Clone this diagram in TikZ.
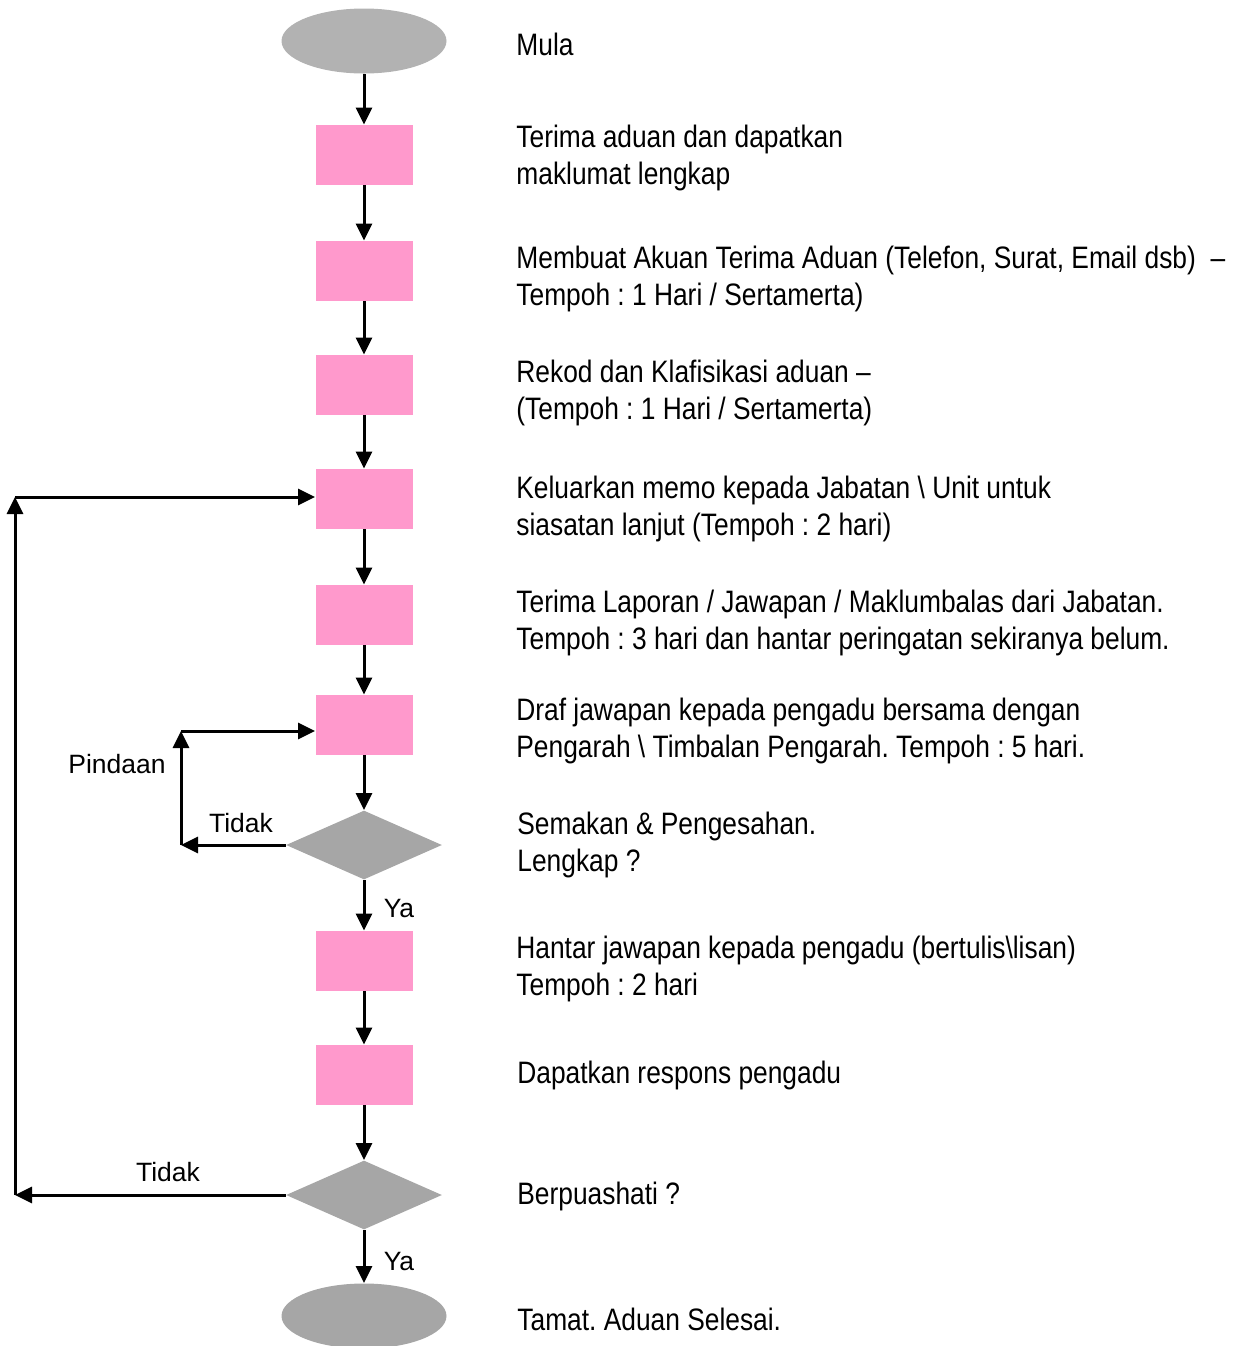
\documentclass[tikz,border=0pt]{standalone}
\usepackage{fontspec}
\setmainfont{Liberation Sans}
\newfontfamily\narrowfont{Liberation Sans}[FakeStretch=0.85]
\usetikzlibrary{shapes.geometric,arrows.meta}
\definecolor{pinkbox}{RGB}{255,153,204}
\definecolor{greyA}{RGB}{178,178,178}
\definecolor{greyB}{RGB}{166,166,166}
\frenchspacing
\tikzset{
  stepbox/.style={rectangle, fill=pinkbox, draw=none, minimum width=48.5pt, minimum height=30pt, inner sep=0pt},
  termnode/.style={ellipse, draw=none, minimum width=82.5pt, minimum height=32.5pt, inner sep=0pt},
  decnode/.style={diamond, fill=greyB, draw=none, minimum width=78pt, minimum height=34.5pt, inner sep=0pt},
  flow/.style={line width=1.5pt, -{Triangle[width=8pt,length=8.5pt]}},
  desc/.style={font=\narrowfont\fontsize{15.5}{18.25}\selectfont, anchor=base west, align=left, inner sep=0pt},
  lbl/.style={font=\fontsize{13.25}{15}\selectfont, inner sep=0pt}
}
\begin{document}
\begin{tikzpicture}[x=0.5pt,y=-0.5pt]
\useasboundingbox (0,0) rectangle (1242,1346);
% shapes
\node[termnode, fill=greyA] (s) at (364,41) {};
\node[stepbox] (b1) at (364,155) {};
\node[stepbox] (b2) at (364,271) {};
\node[stepbox] (b3) at (364,385) {};
\node[stepbox] (b4) at (364,499) {};
\node[stepbox] (b5) at (364,615) {};
\node[stepbox] (b6) at (364,725) {};
\node[decnode] (d1) at (364,845) {};
\node[stepbox] (b7) at (364,961) {};
\node[stepbox] (b8) at (364,1075) {};
\node[decnode] (d2) at (364,1195) {};
\node[termnode, fill=greyB] (e) at (364,1316) {};
% loop corners
\coordinate (c1) at (15,1195);
\coordinate (c2) at (15,497);
\coordinate (c3) at (181,845);
\coordinate (c4) at (181,731);
% main flow
\draw[flow] (s.south) -- (b1.north);
\draw[flow] (b1) -- (b2);
\draw[flow] (b2) -- (b3);
\draw[flow] (b3) -- (b4);
\draw[flow] (b4) -- (b5);
\draw[flow] (b5) -- (b6);
\draw[flow] (b6.south) -- (d1.north);
\draw[flow] (d1.south) -- (b7.north);
\draw[flow] (b7) -- (b8);
\draw[flow] (b8.south) -- (d2.north);
\draw[flow] (d2.south) -- (e.north);
% loops
\draw[flow] (d2.west) -- (c1);
\draw[flow] (c1) -- (c2);
\draw[flow] (c2) -- (c2 -| b4.west);
\draw[flow] (d1.west) -- (c3);
\draw[flow] (c3) -- (c4);
\draw[flow] (c4) -- (c4 -| b6.west);
% labels
\node[lbl] (lp) at (117,764) {Pindaan};
\node[lbl] (lt1) at (241,823) {Tidak};
\node[lbl] (ly1) at (399,908) {Ya};
\node[lbl] (lt2) at (168,1172) {Tidak};
\node[lbl] (ly2) at (399,1261) {Ya};
% descriptions (base = baseline of last line)
\node[desc] (t1) at (516,55) {Mula};
\node[desc] (t2) at (516,184) {Terima aduan dan dapatkan\\maklumat lengkap};
\node[desc] (t3) at (516,305) {Membuat Akuan Terima Aduan (Telefon, Surat, Email dsb)\ \ –\\Tempoh : 1 Hari / Sertamerta)};
\node[desc] (t4) at (516,419) {Rekod dan Klafisikasi aduan –\\(Tempoh : 1 Hari / Sertamerta)};
\node[desc] (t5) at (516,535) {Keluarkan memo kepada Jabatan \textbackslash{} Unit untuk\\siasatan lanjut (Tempoh : 2 hari)};
\node[desc] (t6) at (516,649) {Terima Laporan / Jawapan / Maklumbalas dari Jabatan.\\Tempoh : 3 hari dan hantar peringatan sekiranya belum.};
\node[desc] (t7) at (516,757) {Draf jawapan kepada pengadu bersama dengan\\Pengarah \textbackslash{} Timbalan Pengarah. Tempoh : 5 hari.};
\node[desc] (t8) at (517,871) {Semakan \& Pengesahan.\\Lengkap ?};
\node[desc] (t9) at (516,995) {Hantar jawapan kepada pengadu (bertulis\textbackslash{}lisan)\\Tempoh : 2 hari};
\node[desc] (t10) at (517,1083) {Dapatkan respons pengadu};
\node[desc] (t11) at (517,1204) {Berpuashati ?};
\node[desc] (t12) at (517,1330) {Tamat. Aduan Selesai.};
\end{tikzpicture}
\end{document}
